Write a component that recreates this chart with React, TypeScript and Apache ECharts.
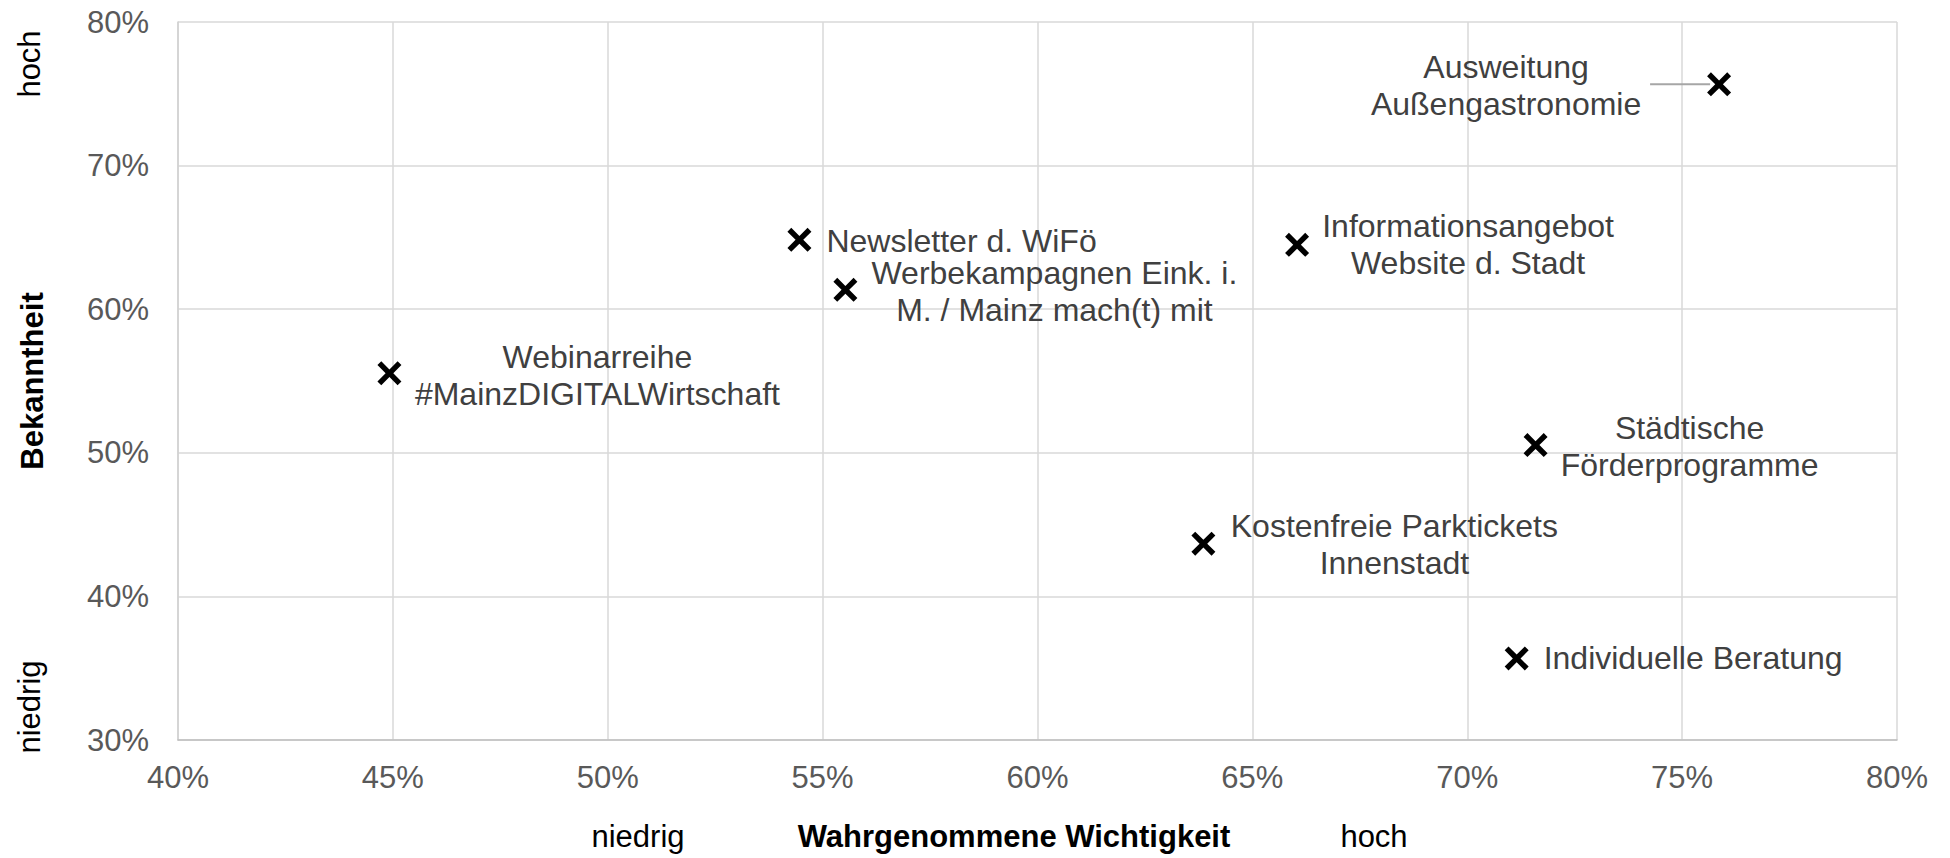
import React, { useEffect, useRef } from "react";
import * as echarts from "echarts";

// ---- data ----
const itemNames: string[] = [
  "Ausweitung\nAußengastronomie",
  "Newsletter d. WiFö",
  "Werbekampagnen Eink. i.\nM. / Mainz mach(t) mit",
  "Informationsangebot\nWebsite d. Stadt",
  "Webinarreihe\n#MainzDIGITALWirtschaft",
  "Städtische\nFörderprogramme",
  "Kostenfreie Parktickets\nInnenstadt",
  "Individuelle Beratung",
];
// Wahrgenommene Wichtigkeit (%)
const importance: number[] = [75.86, 54.46, 55.53, 66.04, 44.92, 71.59, 63.86, 71.15];
// Bekanntheit (%)
const awareness: number[] = [75.66, 64.83, 61.35, 64.48, 55.54, 50.54, 43.67, 35.68];

const xTitle = "Wahrgenommene Wichtigkeit";
const yTitle = "Bekanntheit";
const lowLabel = "niedrig";
const highLabel = "hoch";

// ---- label layout (pixel offsets from marker centre) ----
const labelLayout: { dx: number; dy: number; align: "left" | "center" }[] = [
  { dx: -213, dy: 1, align: "center" },
  { dx: 27, dy: 1, align: "left" },
  { dx: 209, dy: 2, align: "center" },
  { dx: 171, dy: 0, align: "center" },
  { dx: 208, dy: 2, align: "center" },
  { dx: 154, dy: 1, align: "center" },
  { dx: 191, dy: 1, align: "center" },
  { dx: 27, dy: 0, align: "left" },
];
// index of the point whose label has a leader line, and its pixel extent left of the marker
const leaderIndex = 0;
const leaderFrom = 69;
const leaderTo = 9;

const FONT = "'Liberation Sans', Arial, Helvetica, sans-serif";
const X_SYMBOL =
  "path://M0,16 L16,0 L50,34 L84,0 L100,16 L66,50 L100,84 L84,100 L50,66 L16,100 L0,84 L34,50 Z";

function txt(id: string, text: string, x: number, y: number, rot: number, bold = false) {
  return {
    id,
    type: "text",
    x,
    y,
    rotation: rot,
    style: {
      text,
      fontSize: 31,
      fontWeight: bold ? "bold" : "normal",
      fontFamily: FONT,
      fill: "#000000",
      align: "center",
      verticalAlign: "middle",
    },
  };
}

export default function App() {
  const ref = useRef<HTMLDivElement>(null);

  useEffect(() => {
    document.body.style.margin = "0";
    if (!ref.current) return;
    const chart = echarts.init(ref.current, undefined, { renderer: "svg" });

    const data = itemNames.map((name, i) => {
      const l = labelLayout[i];
      return {
        name,
        value: [importance[i], awareness[i]],
        label: {
          show: true,
          position: "inside",
          align: l.align,
          verticalAlign: "middle",
          offset: [l.dx, l.dy],
        },
      };
    });

    const baseGraphic: any[] = [
      txt("hochY", highLabel, 29, 64, Math.PI / 2),
      txt("niedrigY", lowLabel, 29, 707, Math.PI / 2),
      txt("niedrigX", lowLabel, 638, 836, 0),
      txt("hochX", highLabel, 1374, 836, 0),
      txt("xTitle", xTitle, 1014, 836, 0, true),
    ];

    chart.setOption({
      animation: false,
      backgroundColor: "#ffffff",
      textStyle: { fontFamily: FONT },
      grid: { left: 178, right: 53, top: 22, bottom: 118, containLabel: false },
      xAxis: {
        type: "value",
        min: 40,
        max: 80,
        interval: 5,
        axisLine: { show: true, lineStyle: { color: "#bfbfbf", width: 1.5 } },
        axisTick: { show: false },
        axisLabel: {
          formatter: "{value}%",
          fontSize: 31,
          color: "#595959",
          margin: 22,
          fontFamily: FONT,
        },
        splitLine: { show: true, lineStyle: { color: "#d9d9d9", width: 1.5 } },
      },
      yAxis: {
        type: "value",
        min: 30,
        max: 80,
        interval: 10,
        name: yTitle,
        nameLocation: "middle",
        nameRotate: 90,
        nameGap: 130,
        nameTextStyle: { fontSize: 31, fontWeight: "bold", color: "#000000", fontFamily: FONT },
        axisLine: { show: true, lineStyle: { color: "#d0d0d0", width: 1.5 } },
        axisTick: { show: false },
        axisLabel: {
          formatter: "{value}%",
          fontSize: 31,
          color: "#595959",
          margin: 29,
          fontFamily: FONT,
        },
        splitLine: { show: true, lineStyle: { color: "#d9d9d9", width: 1.5 } },
      },
      graphic: baseGraphic,
      series: [
        {
          type: "scatter",
          symbol: X_SYMBOL,
          symbolSize: 24,
          itemStyle: { color: "#000000", opacity: 1 },
          label: {
            show: true,
            formatter: "{b}",
            fontSize: 32,
            lineHeight: 37,
            color: "#404040",
            fontFamily: FONT,
          },
          emphasis: { disabled: true },
          z: 3,
          data,
        },
      ],
    });

    // leader line from the label to its marker, positioned through the axes' scales
    const p = chart.convertToPixel({ gridIndex: 0 }, [
      importance[leaderIndex],
      awareness[leaderIndex],
    ]) as number[];
    chart.setOption({
      graphic: [
        ...baseGraphic,
        {
          id: "leader",
          type: "line",
          z: 2,
          shape: { x1: p[0] - leaderFrom, y1: p[1], x2: p[0] - leaderTo, y2: p[1] },
          style: { stroke: "#a6a6a6", lineWidth: 2 },
        },
      ],
    });

    return () => chart.dispose();
  }, []);

  return <div ref={ref} style={{ width: 1950, height: 858 }} />;
}
